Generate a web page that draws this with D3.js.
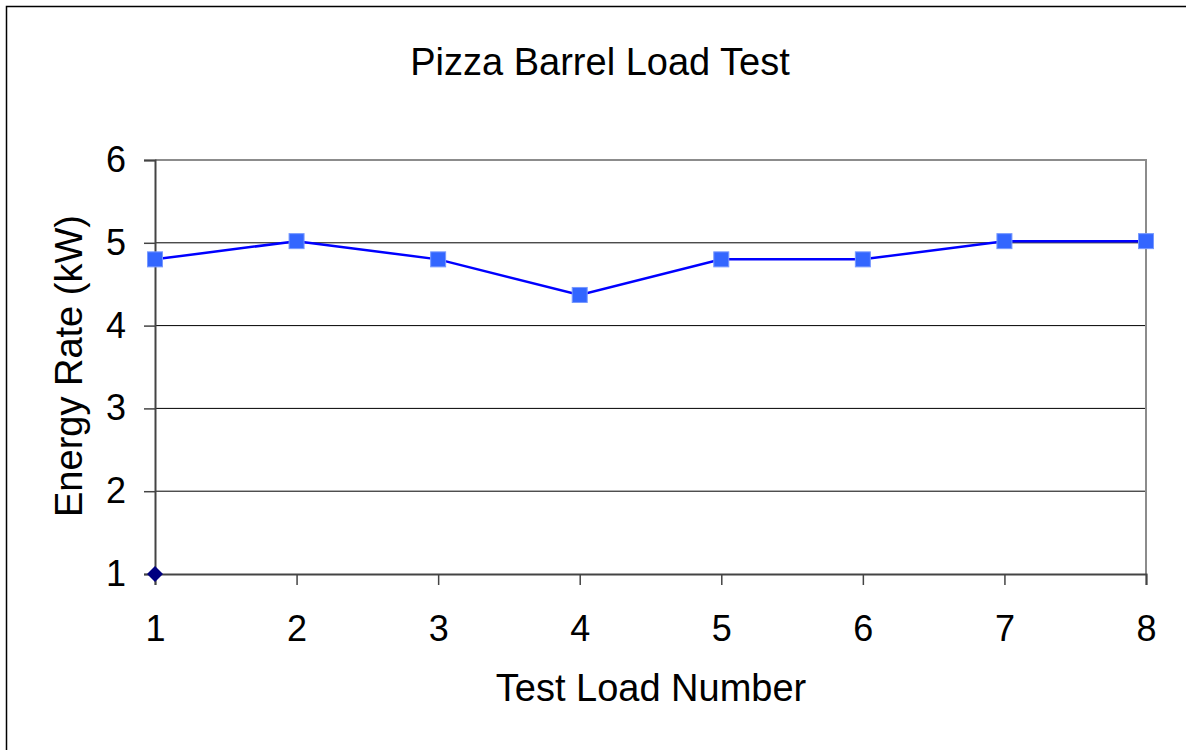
<!DOCTYPE html>
<html><head><meta charset="utf-8">
<script src="https://cdn.jsdelivr.net/npm/d3@7"></script>
<style>body{margin:0;background:#fff}svg{display:block;font-family:"Liberation Sans",Arial,sans-serif}</style>
</head><body><svg id="c" width="1186" height="750"></svg>
<script>
const loads = [1,2,3,4,5,6,7,8];
const energyRate = [4.80,5.02,4.80,4.37,4.80,4.80,5.02,5.02];
const secondSeriesX = [1];
const secondSeriesY = [1];
const yTicks = [1,2,3,4,5,6];
const xTicks = [1,2,3,4,5,6,7,8];

const svg = d3.select("#c");
const L=155,R=1146,T=160,B=574;
const x = d3.scaleLinear().domain([1,8]).range([L,R]);
const y = d3.scaleLinear().domain([1,6]).range([B,T]);
const FF = "Liberation Sans, Arial, sans-serif";

svg.append("rect").attr("x",6.5).attr("y",6.5).attr("width",1300).attr("height",900)
  .attr("fill","none").attr("stroke","#000").attr("stroke-width",1.5);

// gridlines
svg.append("g").selectAll("line").data(yTicks.filter(d=>d>1&&d<6)).join("line")
  .attr("x1",L).attr("x2",R).attr("y1",d=>y(d)).attr("y2",d=>y(d))
  .attr("stroke","#000").attr("stroke-width",1);
// plot border top/right gray
svg.append("path").attr("d",`M${L},${T}H${R}V${B}`).attr("fill","none").attr("stroke","#8c8c8c").attr("stroke-width",2);

// axes
const yAxis = d3.axisLeft(y).tickValues(yTicks).tickSize(11).tickPadding(18).tickFormat(d3.format("d"));
const gy = svg.append("g").attr("transform",`translate(${L},0)`).call(yAxis);
gy.select(".domain").attr("stroke","#444").attr("stroke-width",2);
gy.selectAll(".tick line").attr("stroke","#444").attr("stroke-width",1.5);
gy.selectAll("text").attr("font-size",36).attr("fill","#000").attr("font-family",FF);

const xAxis = d3.axisBottom(x).tickValues(xTicks).tickSize(11).tickPadding(30).tickFormat(d3.format("d"));
const gx = svg.append("g").attr("transform",`translate(0,${B})`).call(xAxis);
gx.select(".domain").attr("stroke","#444").attr("stroke-width",2);
gx.selectAll(".tick line").attr("stroke","#444").attr("stroke-width",1.5);
gx.selectAll("text").attr("font-size",36).attr("fill","#000").attr("font-family",FF);

// line
const data = loads.map((d,i)=>({x:d,y:energyRate[i]}));
svg.append("path").datum(data).attr("fill","none").attr("stroke","#0000ff").attr("stroke-width",2.5)
  .attr("d",d3.line().x(d=>x(d.x)).y(d=>y(d.y)));
svg.append("g").selectAll("rect").data(data).join("rect")
  .attr("x",d=>x(d.x)-7.5).attr("y",d=>y(d.y)-7.5).attr("width",15).attr("height",15)
  .attr("fill","#3366ff").attr("stroke","#7799ff").attr("stroke-width",1);

// second series diamond
svg.append("g").selectAll("path").data(secondSeriesX.map((d,i)=>({x:d,y:secondSeriesY[i]}))).join("path")
  .attr("transform",d=>`translate(${x(d.x)},${y(d.y)})`)
  .attr("d","M0,-8L8,0L0,8L-8,0Z").attr("fill","#000080");

// titles
svg.append("text").attr("x",600).attr("y",75).attr("text-anchor","middle").attr("font-size",38).text("Pizza Barrel Load Test");
svg.append("text").attr("x",651).attr("y",701).attr("text-anchor","middle").attr("font-size",38).text("Test Load Number");
svg.append("text").attr("transform","translate(82,366) rotate(-90)").attr("text-anchor","middle").attr("font-size",38).text("Energy Rate (kW)");
</script></body></html>
